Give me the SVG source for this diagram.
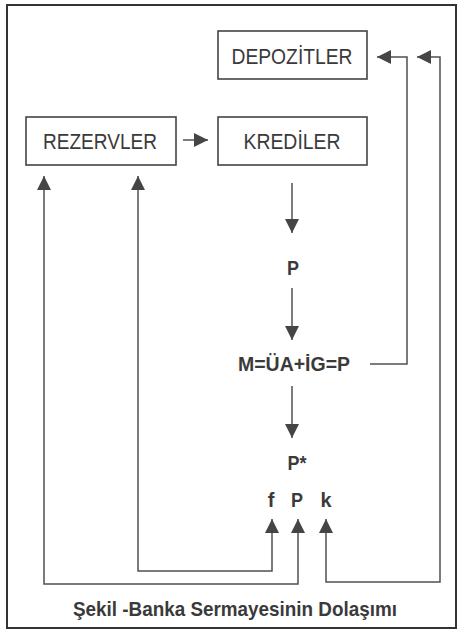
<svg xmlns="http://www.w3.org/2000/svg" width="458" height="636" viewBox="0 0 458 636">
<defs>
<marker id="ah" viewBox="0 0 14 14" refX="14" refY="7" markerWidth="14" markerHeight="14" markerUnits="userSpaceOnUse" orient="auto-start-reverse">
<path d="M0,0 L14,7 L0,14 z" fill="#454545"/>
</marker>
<style>
.box{fill:none;stroke:#444;stroke-width:1.6}
.lbl{font-family:"Liberation Sans",Arial,sans-serif;font-size:21.5px;fill:#3a3a3a;text-anchor:middle}
.b{font-family:"Liberation Sans",Arial,sans-serif;font-weight:bold;font-size:20px;fill:#3a3a3a;text-anchor:middle}
.c{fill:none;stroke:#505050;stroke-width:1.5}
</style>
</defs>
<rect width="458" height="636" fill="#ffffff"/>
<rect x="7" y="5" width="449" height="623" fill="none" stroke="#333" stroke-width="2"/>
<g id="depozitler">
<rect class="box" x="218" y="31" width="149" height="48"/>
<text class="lbl" x="292" y="64" textLength="121" lengthAdjust="spacingAndGlyphs">DEPOZİTLER</text>
</g>
<g id="rezervler">
<rect class="box" x="26" y="117" width="150" height="48"/>
<text class="lbl" x="100" y="149" textLength="114" lengthAdjust="spacingAndGlyphs">REZERVLER</text>
</g>
<g id="krediler">
<rect class="box" x="218" y="117" width="149" height="48"/>
<text class="lbl" x="292" y="149" textLength="97" lengthAdjust="spacingAndGlyphs">KREDİLER</text>
</g>
<g id="p1">
<text class="b" x="293" y="275" textLength="12" lengthAdjust="spacingAndGlyphs">P</text>
</g>
<g id="m">
<text class="b" x="294" y="371" textLength="112" lengthAdjust="spacingAndGlyphs">M=ÜA+İG=P</text>
</g>
<g id="pstar">
<text class="b" x="297" y="470" textLength="19" lengthAdjust="spacingAndGlyphs">P*</text>
</g>
<g id="f"><text class="b" x="271" y="507">f</text></g>
<g id="p2"><text class="b" x="297" y="507" textLength="12" lengthAdjust="spacingAndGlyphs">P</text></g>
<g id="k"><text class="b" x="326" y="507" textLength="11" lengthAdjust="spacingAndGlyphs">k</text></g>
<g id="connectors">
<path class="c" d="M183,140 L208,140" marker-end="url(#ah)"/>
<path class="c" d="M292,183 L292,233" marker-end="url(#ah)"/>
<path class="c" d="M292,288 L292,340" marker-end="url(#ah)"/>
<path class="c" d="M292,386 L292,438" marker-end="url(#ah)"/>
<path class="c" d="M370,364 L407,364 L407,57 L377,57" marker-end="url(#ah)"/>
<path class="c" d="M417,57 L440,57 L440,582 L326,582 L326,519" marker-start="url(#ah)" marker-end="url(#ah)"/>
<path class="c" d="M272,519 L272,571 L138,571 L138,176" marker-start="url(#ah)" marker-end="url(#ah)"/>
<path class="c" d="M298,519 L298,584 L44,584 L44,176" marker-start="url(#ah)" marker-end="url(#ah)"/>
</g>
<g id="caption">
<text class="b" x="235" y="616" style="font-size:21px" textLength="324" lengthAdjust="spacingAndGlyphs">Şekil -Banka Sermayesinin Dolaşımı</text>
</g>
</svg>
